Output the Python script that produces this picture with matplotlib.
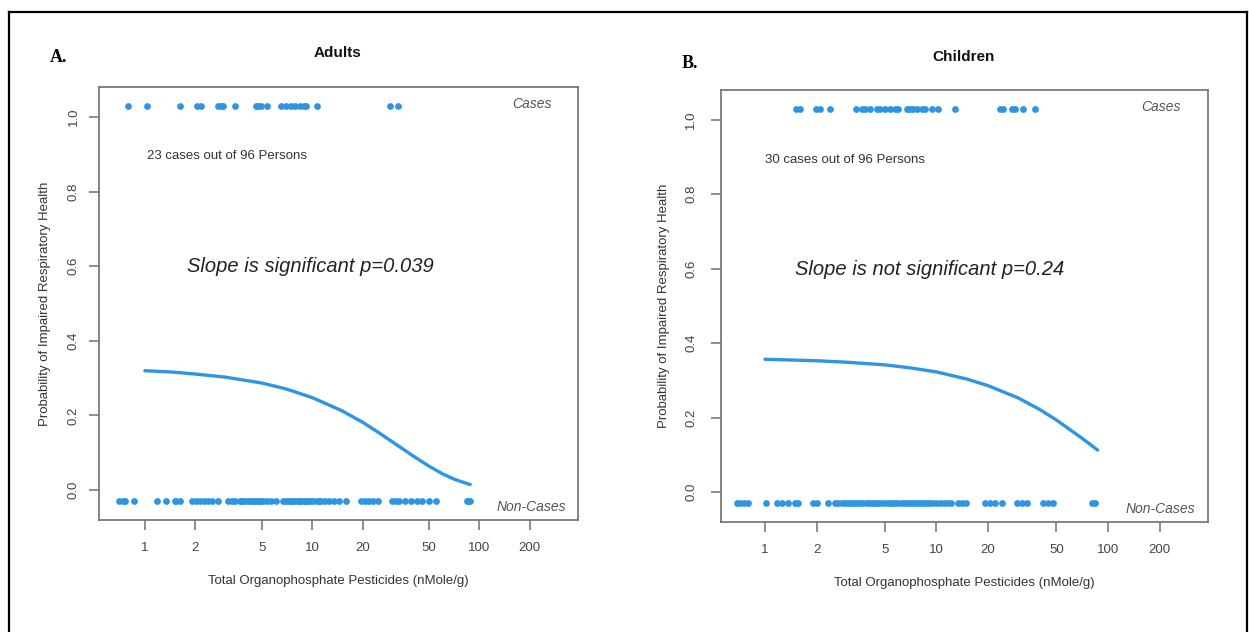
import matplotlib
matplotlib.use("Agg")
import matplotlib.pyplot as plt
from matplotlib.lines import Line2D

plt.rcParams['font.family'] = ['Liberation Sans', 'DejaVu Sans']

# ---------------- data ----------------
adult_cases_x = [0.79, 1.03, 1.62, 2.04, 2.18, 2.72, 2.87, 2.95, 3.48, 4.64, 4.77, 4.97,
                 5.40, 6.54, 7.00, 7.50, 7.92, 8.48, 8.97, 9.21, 10.7, 29.1, 32.5]
adult_noncases_x = [0.697, 0.737, 0.763, 0.856, 1.18, 1.33, 1.51, 1.53, 1.62, 1.91, 2.01,
                    2.13, 2.25, 2.40, 2.51, 2.72, 3.16, 3.34, 3.48, 3.68, 3.78, 3.83, 3.99,
                    4.16, 4.33, 4.46, 4.52, 4.71, 4.84, 4.90, 5.11, 5.40, 5.70, 6.11, 6.72,
                    7.00, 7.30, 7.50, 7.60, 7.92, 8.25, 8.48, 8.60, 8.97, 9.21, 9.34, 9.73,
                    10.14, 10.71, 11.01, 11.31, 11.95, 12.63, 13.52, 14.48, 15.94, 19.57,
                    20.68, 21.85, 23.07, 24.71, 29.93, 31.62, 32.96, 35.78, 38.85, 42.17,
                    45.16, 49.71, 54.72, 83.7, 84.8, 87.2]
adult_curve_x = [1, 1.5, 2, 3, 5, 7, 10, 15, 20, 25, 30, 40, 50, 60, 70, 80, 88]
adult_curve_p = [0.320, 0.316, 0.311, 0.303, 0.287, 0.271, 0.248, 0.213, 0.182, 0.154,
                 0.130, 0.092, 0.064, 0.044, 0.030, 0.021, 0.015]

child_cases_x = [1.52, 1.60, 1.98, 2.09, 2.39, 3.39, 3.68, 3.83, 4.10, 4.50, 4.68, 5.01,
                 5.36, 5.73, 5.96, 6.73, 7.01, 7.30, 7.70, 8.23, 8.57, 9.41, 10.2, 12.8,
                 23.5, 24.4, 27.6, 28.7, 31.9, 37.5]
child_noncases_x = [0.687, 0.715, 0.755, 0.796, 1.013, 1.175, 1.256, 1.362, 1.496, 1.557,
                    1.905, 2.010, 2.330, 2.560, 2.666, 2.812, 2.928, 3.048, 3.174, 3.260,
                    3.394, 3.533, 3.678, 3.881, 4.041, 4.207, 4.321, 4.498, 4.683, 4.941,
                    5.144, 5.357, 5.502, 5.728, 5.964, 6.293, 6.552, 6.821, 7.101, 7.393,
                    7.698, 8.014, 8.343, 8.686, 9.043, 9.414, 9.934, 10.48, 11.06, 11.67,
                    12.15, 13.35, 14.08, 14.86, 19.18, 20.51, 21.94, 24.09, 29.48, 31.52,
                    33.71, 41.78, 44.68, 47.78, 80.67, 84.0]
child_curve_x = [1, 2, 3, 5, 7, 10, 15, 20, 30, 40, 50, 60, 70, 80, 87]
child_curve_p = [0.357, 0.353, 0.349, 0.342, 0.334, 0.323, 0.304, 0.286, 0.253, 0.222,
                 0.194, 0.168, 0.146, 0.126, 0.113]

case_y = 1.03
noncase_y = -0.03
x_ticks = [1, 2, 5, 10, 20, 50, 100, 200]
x_tick_labels = ["1", "2", "5", "10", "20", "50", "100", "200"]
y_ticks = [0.0, 0.2, 0.4, 0.6, 0.8, 1.0]
y_tick_labels = ["0.0", "0.2", "0.4", "0.6", "0.8", "1.0"]

# ---------------- figure ----------------
W, H = 1249, 632
fig = plt.figure(figsize=(W / 100, H / 100), dpi=100)

BLUE = '#2f95e3'
GRAY = '#707070'
TXT = '#333333'


def px_axes(l, t, r, b):
    return fig.add_axes([l / W, 1 - b / H, (r - l) / W, (b - t) / H])


def draw_panel(ax, cases_x, non_x, cx, cp, xlim, count_txt, count_pos, slope_txt, slope_pos,
               cases_lab_x, non_lab_x, ypad, ylabpad):
    ax.scatter(cases_x, [case_y] * len(cases_x), s=24, color=BLUE, linewidths=0, zorder=3)
    ax.scatter(non_x, [noncase_y] * len(non_x), s=24, color=BLUE, linewidths=0, zorder=3)
    ax.plot(cx, cp, color=BLUE, lw=2.4, solid_capstyle='round', zorder=2)
    ax.set_xscale('log')
    ax.set_xlim(*xlim)
    ax.set_ylim(-0.08, 1.08)
    ax.set_xticks(x_ticks)
    ax.set_xticklabels(x_tick_labels)
    ax.minorticks_off()
    ax.set_yticks(y_ticks)
    ax.set_yticklabels(y_tick_labels, rotation=90, va='center')
    for s in ax.spines.values():
        s.set_color(GRAY)
        s.set_linewidth(1.2)
    ax.tick_params(axis='both', length=7, width=1.1, color=GRAY, labelsize=9.5,
                   labelcolor='#444444')
    ax.tick_params(axis='x', pad=9)
    ax.tick_params(axis='y', pad=ypad)
    ax.set_xlabel("Total Organophosphate Pesticides (nMole/g)", fontsize=9.5, color=TXT,
                  labelpad=15)
    ax.set_ylabel("Probability of Impaired Respiratory Health", fontsize=9.5, color=TXT,
                  labelpad=ylabpad)
    ax.text(count_pos[0], count_pos[1], count_txt, fontsize=9.5, color=TXT,
            ha='left', va='center')
    ax.text(slope_pos[0], slope_pos[1], slope_txt, fontsize=14.5, color='#222222',
            style='italic', ha='left', va='center')
    ax.text(cases_lab_x, 1.035, "Cases", fontsize=10, color='#555555', style='italic',
            ha='right', va='center')
    ax.text(non_lab_x, -0.045, "Non-Cases", fontsize=10, color='#555555', style='italic',
            ha='right', va='center')


axA = px_axes(99, 87, 578, 520)
draw_panel(axA, adult_cases_x, adult_noncases_x, adult_curve_x, adult_curve_p,
           (0.532, 388), "23 cases out of 96 Persons", (1.03, 0.895),
           "Slope is significant p=0.039", (1.78, 0.598), 269, 330, 7, 12)

axB = px_axes(721, 90, 1208, 522)
draw_panel(axB, child_cases_x, child_noncases_x, child_curve_x, child_curve_p,
           (0.554, 383), "30 cases out of 96 Persons", (1.0, 0.893),
           "Slope is not significant p=0.24", (1.50, 0.598), 264, 321, 10, 11)

# titles and panel letters
fig.text(338 / W, 1 - 53 / H, "Adults", fontsize=11, fontweight='bold', color='#111111',
         ha='center', va='center')
fig.text(964 / W, 1 - 57 / H, "Children", fontsize=11, fontweight='bold', color='#111111',
         ha='center', va='center')
fig.text(50 / W, 1 - 58 / H, "A.", fontsize=13, fontweight='bold', family='Liberation Serif',
         color='black', ha='left', va='center')
fig.text(682 / W, 1 - 63 / H, "B.", fontsize=13, fontweight='bold', family='Liberation Serif',
         color='black', ha='left', va='center')

# outer frame
fig.add_artist(Line2D([9 / W, 9 / W], [0, 1 - 12 / H], transform=fig.transFigure,
                      color='black', lw=1.6))
fig.add_artist(Line2D([9 / W, 1247 / W], [1 - 12 / H, 1 - 12 / H], transform=fig.transFigure,
                      color='black', lw=1.6))
fig.add_artist(Line2D([1247 / W, 1247 / W], [0, 1 - 12 / H], transform=fig.transFigure,
                      color='black', lw=1.6))

fig.savefig("out.png", dpi=100)
